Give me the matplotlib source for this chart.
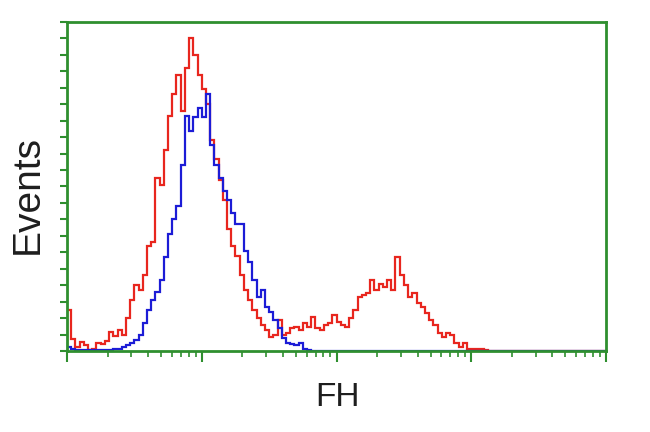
import numpy as np
import matplotlib as mpl
mpl.use('Agg')
import matplotlib.pyplot as plt
from matplotlib.ticker import LogLocator, MultipleLocator, NullFormatter

# channel counts, 128 log-spaced channels from 10^0 to 10^4
red = [25, 7, 2.4, 5.5, 3.6, 0.6, 1.2, 4.9, 4.3, 6,
       11.6, 9, 12.8, 9.7, 20, 31, 40, 37, 46, 64,
       66, 105, 101, 122, 143, 156, 168, 146, 172, 190,
       180, 168, 159, 150, 128, 117, 104, 92, 74, 64,
       58, 46, 37, 31, 25, 20, 16, 12.8, 8.5, 9.7,
       19, 9.7, 11, 14, 14.6, 12.8, 17, 14.6, 20.7, 14,
       12.8, 16, 17, 22, 17.6, 16, 14.6, 20, 25, 33,
       34, 35, 43, 37, 41, 39, 43, 37, 57, 46,
       40, 33, 35, 29, 27, 23, 19, 16, 11, 8.5,
       11, 9.7, 4.9, 2.4, 4.9, 1.2, 1.2, 1.2, 1.2, 0.6] + [0] * 28

blue = [2.4, 1.2, 0.6, 0.6, 0.6, 0.6, 0.6, 0.6, 0.8, 0.8,
        0.8, 1.0, 1.2, 2.4, 3.6, 4.9, 6.7, 9.7, 17, 25,
        31, 36, 43, 57, 71, 80, 88, 113, 143, 134,
        142, 148, 142, 156, 125, 113, 105, 97, 92, 84,
        77, 77, 61, 54, 43, 33, 37, 27, 24, 19,
        14, 8, 4.9, 4.3, 3.6, 4.9, 1.2, 0.6, 0.3, 0.3] + [0] * 68

edges = np.logspace(0, 4, len(red) + 1)

green = '#2f8f2f'

fig = plt.figure(figsize=(6.5, 4.32), dpi=100)
ax = fig.add_axes([0.1031, 0.1875, 0.8292, 0.7616])

ax.stairs(red, edges, color='#e8261e', linewidth=1.6)
ax.stairs(blue, edges, color='#1c1cd6', linewidth=1.6)

ax.set_xscale('log')
ax.set_xlim(1, 1e4)
ax.set_ylim(0, 200)

ax.xaxis.set_major_locator(LogLocator(base=10, numticks=10))
ax.xaxis.set_minor_locator(LogLocator(base=10, subs=np.arange(2, 10), numticks=10))
ax.xaxis.set_major_formatter(NullFormatter())
ax.xaxis.set_minor_formatter(NullFormatter())
ax.yaxis.set_major_locator(MultipleLocator(10))
ax.yaxis.set_major_formatter(NullFormatter())

ax.tick_params(axis='x', which='major', direction='out', length=8, width=1.5, color=green)
ax.tick_params(axis='x', which='minor', direction='out', length=4, width=1.2, color=green)
ax.tick_params(axis='y', which='major', direction='out', length=5, width=1.5, color=green)
for s in ax.spines.values():
    s.set_color(green)
    s.set_linewidth(2)

fig.text(28 / 650, 1 - 195 / 432, 'Events', rotation=90, ha='center', va='center',
         fontsize=28, family='Liberation Sans', color='#1e1e1e')
fig.text(337 / 650, 1 - 397 / 432, 'FH', ha='center', va='center',
         fontsize=24, family='Liberation Sans', color='#1e1e1e')

fig.savefig('out.png', dpi=100)
